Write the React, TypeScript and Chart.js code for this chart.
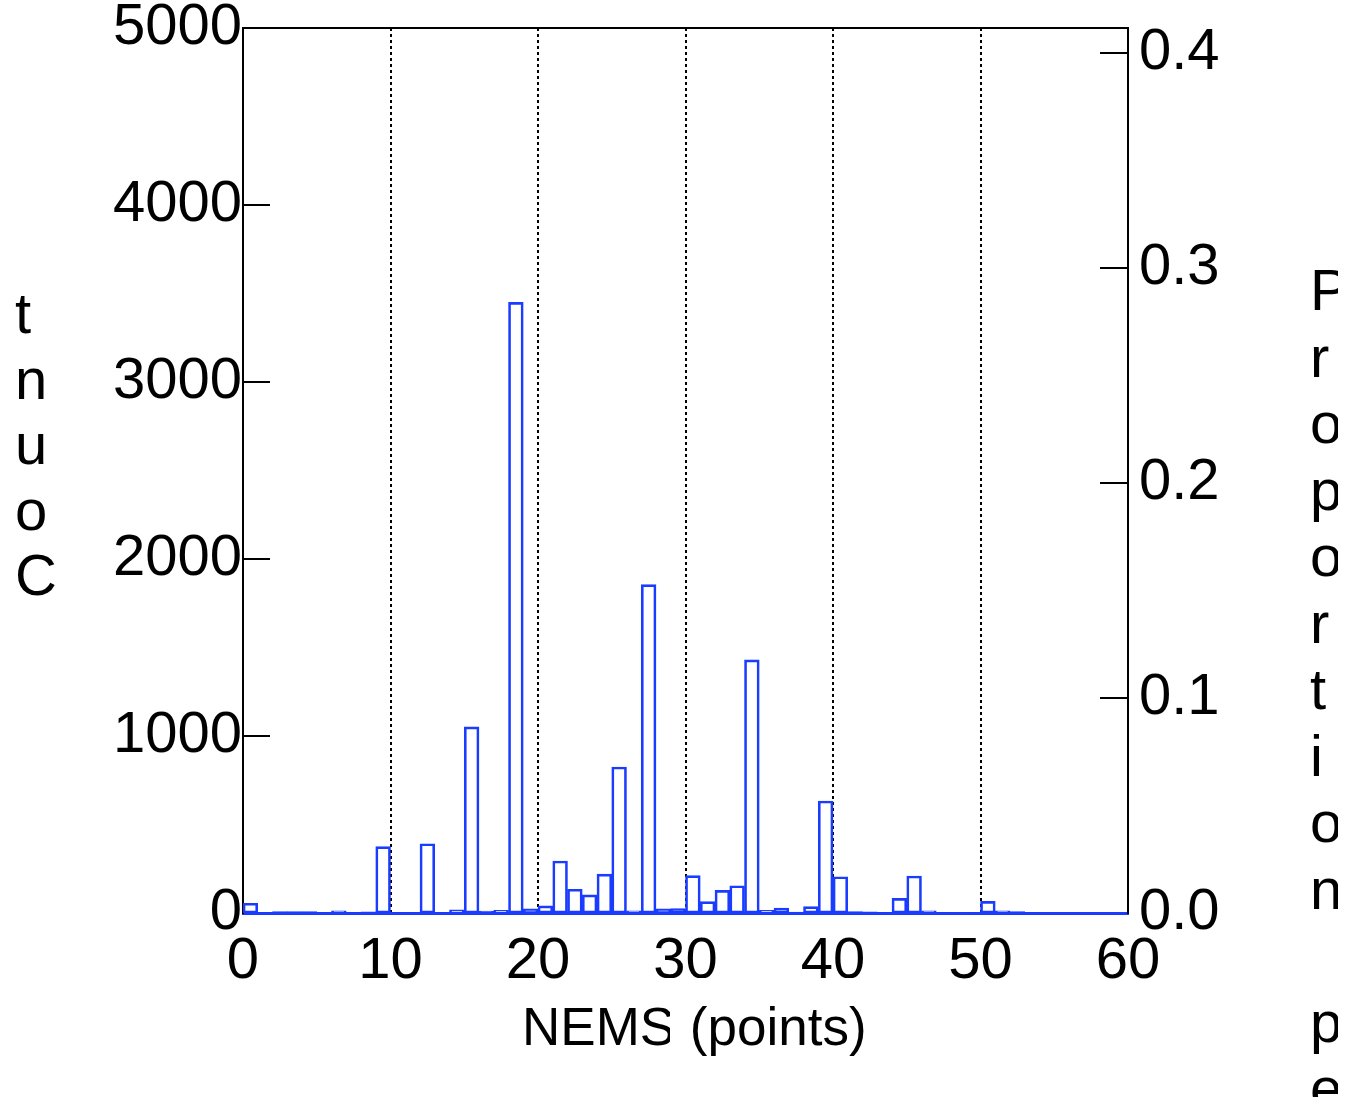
import React, { useEffect, useRef } from "react";
import { Chart, registerables } from "chart.js";

Chart.register(...registerables);

// Histogram: one bin per point, bins start at 0,1,2,...,59
const BIN_WIDTH = 1;
const COUNTS: number[] = [
  55, 3, 8, 8, 8, 3, 12, 3, 6, 375,
  3, 2, 391, 3, 18, 1052, 11, 15, 3450, 23,
  40, 294, 134, 102, 220, 825, 12, 1855, 23, 25,
  211, 64, 128, 154, 1430, 15, 28, 5, 36, 633,
  205, 8, 6, 2, 83, 209, 12, 3, 4, 2,
  66, 12, 8, 2, 4, 1, 1, 1, 1, 1,
];

const X_TICKS = [0, 10, 20, 30, 40, 50, 60];
const COUNT_TICKS = [0, 1000, 2000, 3000, 4000, 5000];
const PROPORTION_TICKS = [0, 0.1, 0.2, 0.3, 0.4];
const PROPORTION_MAX = 0.4116;

const X_TITLE = "NEMS (points)";
const LEFT_TITLE = "Count";
const RIGHT_TITLE = "Proportion per Bar";

const BLUE = "#1a3cff";
const FONT = '"Liberation Sans", Arial, Helvetica, sans-serif';

const zeroPadding = (s: any) => {
  s.paddingTop = 0;
  s.paddingBottom = 0;
  s.paddingLeft = 0;
  s.paddingRight = 0;
};

const decorations = {
  id: "decorations",
  beforeDatasetsDraw(chart: any) {
    const ctx = chart.ctx as CanvasRenderingContext2D;
    const { left, right } = chart.chartArea;
    const y = chart.scales.y;
    const y2 = chart.scales.y2;
    ctx.save();
    ctx.strokeStyle = "#000";
    ctx.lineWidth = 2;
    ctx.beginPath();
    COUNT_TICKS.filter((v) => v > 0).forEach((v) => {
      const py = Math.round(y.getPixelForValue(v));
      ctx.moveTo(left, py);
      ctx.lineTo(left + 27, py);
    });
    PROPORTION_TICKS.filter((v) => v > 0).forEach((v) => {
      const py = Math.round(y2.getPixelForValue(v));
      ctx.moveTo(right - 28, py);
      ctx.lineTo(right, py);
    });
    ctx.stroke();
    ctx.restore();
  },
  afterDraw(chart: any) {
    const ctx = chart.ctx as CanvasRenderingContext2D;
    const { left, right, top } = chart.chartArea;
    ctx.save();
    // top frame line
    ctx.strokeStyle = "#000";
    ctx.lineWidth = 2;
    ctx.beginPath();
    ctx.moveTo(left - 1, top);
    ctx.lineTo(right + 1, top);
    ctx.stroke();

    ctx.fillStyle = "#000";
    ctx.textBaseline = "alphabetic";
    ctx.textAlign = "left";

    // left title: letters stacked, last letter at the bottom
    ctx.font = `58px ${FONT}`;
    Array.from(LEFT_TITLE)
      .reverse()
      .forEach((c, i) => ctx.fillText(c, 15, 333 + i * 65.5));

    // right title: letters stacked top to bottom
    Array.from(RIGHT_TITLE).forEach((c, i) => {
      if (c !== " ") ctx.fillText(c, 1310, 310 + i * 66.5);
    });

    // x title
    ctx.font = `53px ${FONT}`;
    ctx.fillText(X_TITLE, 522, 1045);

    // white patches overlapping the labels, as in the original
    ctx.fillStyle = "#fff";
    ctx.fillRect(655, 978, 215, 22);
    ctx.fillRect(670, 995, 19, 65);
    ctx.fillRect(1338, 240, 8, 857);
    ctx.restore();
  },
};

export default function App() {
  const ref = useRef<HTMLCanvasElement | null>(null);

  useEffect(() => {
    if (!ref.current) return;
    const data = COUNTS.map((c, i) => ({ x: i * BIN_WIDTH + BIN_WIDTH / 2, y: c }));
    const chart = new Chart(ref.current, {
      type: "bar",
      data: {
        datasets: [
          {
            data: data as any,
            backgroundColor: "rgba(255,255,255,0)",
            borderColor: BLUE,
            borderWidth: 2,
            borderSkipped: false,
            barPercentage: 1,
            categoryPercentage: 1,
          },
        ],
      },
      options: {
        animation: false,
        responsive: false,
        events: [],
        layout: { padding: { left: 0, right: 0, top: 28, bottom: 0 } },
        plugins: {
          legend: { display: false },
          tooltip: { enabled: false },
          title: { display: false },
        },
        scales: {
          x: {
            type: "linear",
            min: 0,
            max: 60,
            offset: false,
            afterBuildTicks: (s: any) => {
              s.ticks = X_TICKS.map((v) => ({ value: v }));
            },
            afterFit: (s: any) => {
              s.height = 184;
              zeroPadding(s);
            },
            ticks: {
              color: "#000",
              padding: 14,
              maxRotation: 0,
              autoSkip: false,
              font: { family: FONT, size: 58 },
              callback: (v: any) => String(v),
            },
            grid: {
              display: true,
              offset: false,
              drawTicks: false,
              lineWidth: 2,
              color: (c: any) =>
                c.tick && c.tick.value > 0 && c.tick.value < 60 ? "#000" : "rgba(0,0,0,0)",
            },
            border: { display: true, color: BLUE, width: 3, dash: [3, 3] },
          },
          y: {
            type: "linear",
            position: "left",
            min: 0,
            max: 5000,
            afterBuildTicks: (s: any) => {
              s.ticks = COUNT_TICKS.map((v) => ({ value: v }));
            },
            afterFit: (s: any) => {
              s.width = 243;
              zeroPadding(s);
            },
            ticks: {
              color: "#000",
              padding: 1,
              font: { family: FONT, size: 58, lineHeight: 0.9 },
              callback: (v: any) => String(v),
            },
            grid: { display: false, drawTicks: false },
            border: { display: true, color: "#000", width: 2 },
          },
          y2: {
            type: "linear",
            position: "right",
            min: 0,
            max: PROPORTION_MAX,
            afterBuildTicks: (s: any) => {
              s.ticks = PROPORTION_TICKS.map((v) => ({ value: v }));
            },
            afterFit: (s: any) => {
              s.width = 218;
              zeroPadding(s);
            },
            ticks: {
              color: "#000",
              padding: 11,
              font: { family: FONT, size: 58, lineHeight: 0.9 },
              callback: (v: any) => Number(v).toFixed(1),
            },
            grid: { display: false, drawTicks: false },
            border: { display: true, color: "#000", width: 2 },
          },
        },
      },
      plugins: [decorations],
    });
    return () => chart.destroy();
  }, []);

  return (
    <div style={{ position: "absolute", left: 0, top: 0, width: 1346, height: 1097, background: "#fff" }}>
      <canvas ref={ref} width={1346} height={1097} style={{ display: "block" }} />
    </div>
  );
}
